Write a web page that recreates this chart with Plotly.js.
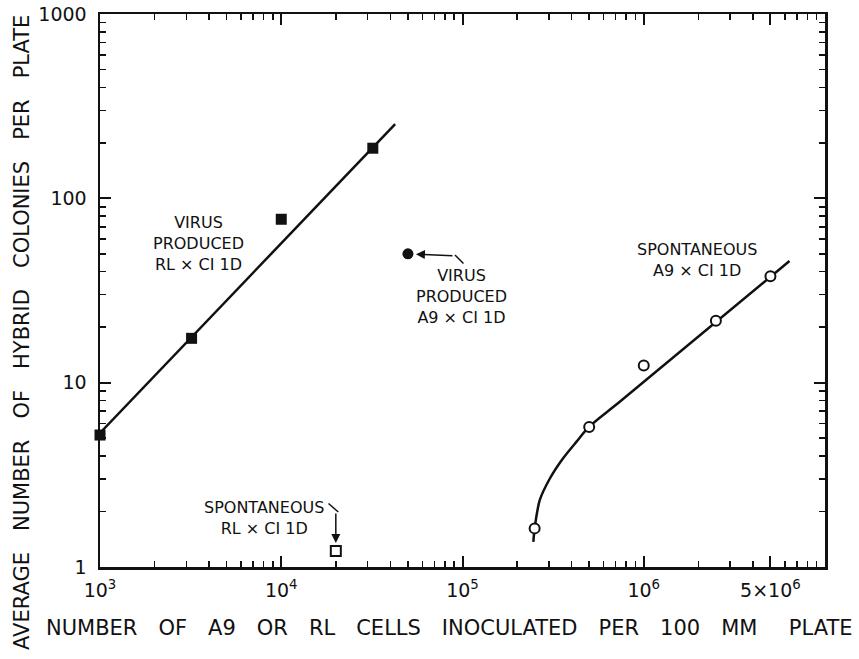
<!DOCTYPE html>
<html>
<head>
<meta charset="utf-8">
<script src="https://cdn.plot.ly/plotly-3.0.1.min.js"></script>
<style>html,body{margin:0;padding:0;background:#fff;}</style>
</head>
<body>
<div id="chart" style="width:859px;height:659px;"></div>
<script>
// ---- data ----
const rlVirusX = [1000, 3200, 10000, 32000];
const rlVirusY = [5.2, 17.4, 77, 187];
const rlFitX = [830, 42500];
const rlFitY = [4.4, 253];

const a9VirusX = [50000];
const a9VirusY = [50];

const rlSpontX = [20000];
const rlSpontY = [1.22];

const a9SpontX = [2.5e5, 5e5, 1e6, 2.5e6, 5e6];
const a9SpontY = [1.62, 5.75, 12.4, 21.7, 37.8];
const a9CurveX = [2.46e5, 2.5e5, 2.67e5, 3.04e5, 3.59e5, 4.26e5, 5.0e5, 7.4e5, 6.37e6];
const a9CurveY = [1.37, 1.62, 2.31, 3.03, 3.89, 4.79, 5.77, 7.9, 45.7];

const xTickVals = [1e3, 1e4, 1e5, 1e6, 5e6];
const xTickText = ['10<sup>3</sup>', '10<sup>4</sup>', '10<sup>5</sup>', '10<sup>6</sup>', '5×10<sup>6</sup>'];
const yTickVals = [1, 10, 100, 1000];
const yTickText = ['1', '10', '100', '1000'];

// minor tick positions (2..9 in each decade)
function minorTicks(lo, hi) {
  const out = [];
  for (let d = lo; d < hi; d++) for (let m = 2; m <= 9; m++) out.push(m * Math.pow(10, d));
  return out;
}

// ---- layout helpers (pixel -> paper) ----
const L = 100, R = 34, T = 14, B = 92, W = 859, H = 659;
const PW = W - L - R, PH = H - T - B;
const px = v => (v - L) / PW;
const py = v => (H - B - v) / PH;

const FONT = 'DejaVu Sans, Liberation Sans, sans-serif';
const INK = '#111';

const traces = [
  { x: rlFitX, y: rlFitY, mode: 'lines', cliponaxis: false, line: { color: INK, width: 2.5 }, hoverinfo: 'skip' },
  { x: rlVirusX, y: rlVirusY, mode: 'markers', cliponaxis: false, marker: { symbol: 'square', size: 11, color: INK } },
  { x: a9VirusX, y: a9VirusY, mode: 'markers', cliponaxis: false, marker: { symbol: 'circle', size: 11, color: INK } },
  { x: rlSpontX, y: rlSpontY, mode: 'markers', cliponaxis: false, marker: { symbol: 'square-open', size: 10, color: INK, line: { width: 2, color: INK } } },
  { x: a9CurveX, y: a9CurveY, mode: 'lines', cliponaxis: false, line: { color: INK, width: 2.5, shape: 'spline', smoothing: 0.8 }, hoverinfo: 'skip' },
  { x: a9SpontX, y: a9SpontY, mode: 'markers', cliponaxis: false, marker: { symbol: 'circle', size: 10, color: '#fff', line: { width: 2, color: INK } } }
];

const axisCommon = {
  type: 'log',
  showline: true, linewidth: 2.5, linecolor: INK,
  mirror: 'allticks',
  ticks: 'inside', ticklen: 11, tickwidth: 2, tickcolor: INK,
  showgrid: false, zeroline: false,
  tickfont: { family: FONT, size: 19, color: INK },
  tickmode: 'array'
};

const ES = '\u2003';
const layout = {
  width: W, height: H,
  margin: { l: L, r: R, t: T, b: B },
  paper_bgcolor: '#fff', plot_bgcolor: '#fff',
  showlegend: false,
  xaxis: Object.assign({}, axisCommon, {
    range: [2.99995, 7], tickvals: xTickVals, ticktext: xTickText, ticklabelstandoff: 5,
    minor: { ticks: 'inside', ticklen: 6, tickwidth: 1.5, tickcolor: INK, tickvals: minorTicks(3, 7), showgrid: false }
  }),
  yaxis: Object.assign({}, axisCommon, {
    range: [0, 3], tickvals: yTickVals, ticktext: yTickText, ticklabelstandoff: 7,
    minor: { ticks: 'inside', ticklen: 6, tickwidth: 1.5, tickcolor: INK, tickvals: minorTicks(0, 3), showgrid: false }
  }),
  annotations: [
    { xref: 'paper', yref: 'paper', x: px(449), y: py(628), xanchor: 'center', yanchor: 'middle', showarrow: false,
      text: 'NUMBER' + ES + 'OF' + ES + 'A9' + ES + 'OR' + ES + 'RL' + ES + 'CELLS' + ES + 'INOCULATED' + ES + 'PER' + ES + '100' + ES + 'MM' + ES + '\u2002PLATE',
      font: { family: FONT, size: 21, color: INK } },
    { xref: 'paper', yref: 'paper', x: px(22), y: py(333), xanchor: 'center', yanchor: 'middle', showarrow: false, textangle: -90,
      text: 'AVERAGE' + ES + 'NUMBER' + ES + 'OF' + ES + 'HYBRID' + ES + 'COLONIES' + ES + 'PER' + ES + 'PLATE',
      font: { family: FONT, size: 21, color: INK } },
    { xref: 'paper', yref: 'paper', x: px(198.5), y: py(244), xanchor: 'center', yanchor: 'middle', showarrow: false, align: 'center',
      text: 'VIRUS<br>PRODUCED<br>RL × CI 1D', font: { family: FONT, size: 16, color: INK } },
    { xref: 'paper', yref: 'paper', x: px(461), y: py(297), xanchor: 'center', yanchor: 'middle', showarrow: false, align: 'center',
      text: 'VIRUS<br>PRODUCED<br>A9 × CI 1D', font: { family: FONT, size: 16, color: INK } },
    { xref: 'paper', yref: 'paper', x: px(264), y: py(517.5), xanchor: 'center', yanchor: 'middle', showarrow: false, align: 'center',
      text: 'SPONTANEOUS<br>RL × CI 1D', font: { family: FONT, size: 16, color: INK } },
    { xref: 'paper', yref: 'paper', x: px(697), y: py(260), xanchor: 'center', yanchor: 'middle', showarrow: false, align: 'center',
      text: 'SPONTANEOUS<br>A9 × CI 1D', font: { family: FONT, size: 16, color: INK } },
    // arrows pointing to the single points
    { xref: 'x', yref: 'y', x: Math.log10(a9VirusX[0]), y: Math.log10(a9VirusY[0]), text: '', showarrow: true,
      ax: 46, ay: 2, arrowhead: 2, arrowsize: 1.2, arrowwidth: 1.5, arrowcolor: INK, standoff: 8 },
    { xref: 'x', yref: 'y', x: Math.log10(rlSpontX[0]), y: Math.log10(rlSpontY[0]), text: '', showarrow: true,
      ax: 0, ay: -39, arrowhead: 2, arrowsize: 1.2, arrowwidth: 1.5, arrowcolor: INK, standoff: 8 }
  ],
  shapes: [
    { type: 'line', xref: 'paper', yref: 'paper', x0: px(455), y0: py(255), x1: px(463.5), y1: py(263.5), line: { color: INK, width: 1.5 } },
    { type: 'line', xref: 'paper', yref: 'paper', x0: px(328.5), y0: py(503.5), x1: px(338.3), y1: py(512), line: { color: INK, width: 1.5 } }
  ]
};

Plotly.newPlot('chart', traces, layout, { staticPlot: true, displayModeBar: false });
</script>
</body>
</html>
